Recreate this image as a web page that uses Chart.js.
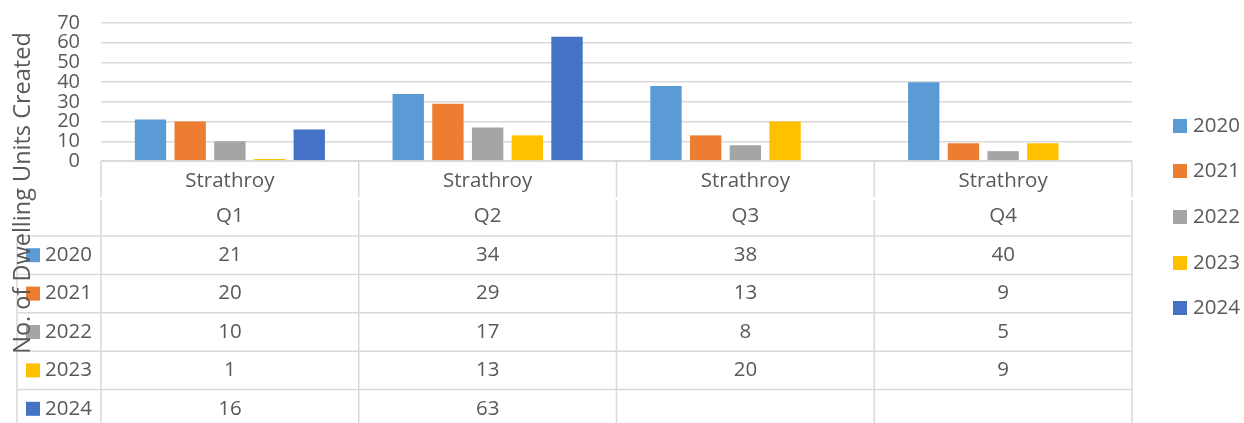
<!DOCTYPE html>
<html>
<head>
<meta charset="utf-8">
<script src="https://cdn.jsdelivr.net/npm/chart.js@4"></script>
<style>
  html, body { margin: 0; padding: 0; background: #fff; }
  #wrap { width: 1244px; height: 423px; }
</style>
</head>
<body>
<div id="wrap"><canvas id="chart" width="1244" height="423"></canvas></div>
<script>
const quarters = ['Q1', 'Q2', 'Q3', 'Q4'];
const place = 'Strathroy';
const years = ['2020', '2021', '2022', '2023', '2024'];
const units2020 = [21, 34, 38, 40];
const units2021 = [20, 29, 13, 9];
const units2022 = [10, 17, 8, 5];
const units2023 = [1, 13, 20, 9];
const units2024 = [16, 63, null, null];
const yTicks = [0, 10, 20, 30, 40, 50, 60, 70];
const colors = ['#5B9BD5', '#ED7D31', '#A5A5A5', '#FFC000', '#4472C4'];
const yTitle = 'No. of Dwelling Units Created';

const FONT = '"Open Sans", Lato, sans-serif';
const TEXT = '#595959';
const LINE = '#D9D9D9';

const series = [units2020, units2021, units2022, units2023, units2024];

// data table under the plot, legend on the right, rotated axis title
const tablePlugin = {
    id: 'dataTable',
    afterDraw(chart) {
        const ctx = chart.ctx;
        const area = chart.chartArea;
        const xs = chart.scales.x;
        const n = quarters.length;
        const colW = (area.right - area.left) / n;
        const rowTop = area.bottom + 75;
        const rowH = 38.4;
        const tableLeft = 17;
        const bottom = 423;

        ctx.save();
        ctx.strokeStyle = LINE;
        ctx.lineWidth = 1.5;

        for (let i = 0; i <= n; i++) {
            const x = area.left + colW * i;
            ctx.beginPath();
            ctx.moveTo(x, area.bottom);
            ctx.lineTo(x, area.bottom + 36);
            ctx.moveTo(x, area.bottom + 39);
            ctx.lineTo(x, bottom);
            ctx.stroke();
        }
        ctx.beginPath();
        ctx.moveTo(tableLeft, rowTop);
        ctx.lineTo(tableLeft, bottom);
        ctx.stroke();

        ctx.beginPath();
        ctx.moveTo(area.left, area.bottom);
        ctx.lineTo(area.right, area.bottom);
        ctx.stroke();
        for (let r = 0; r < years.length; r++) {
            const y = rowTop + rowH * r;
            ctx.beginPath();
            ctx.moveTo(tableLeft, y);
            ctx.lineTo(area.right, y);
            ctx.stroke();
        }

        ctx.fillStyle = TEXT;
        ctx.font = '20.5px ' + FONT;
        ctx.textAlign = 'center';
        ctx.textBaseline = 'middle';
        quarters.forEach((q, i) => {
            const cx = xs.getPixelForValue(i);
            ctx.fillText(place, cx, area.bottom + 20);
            ctx.fillText(q, cx, area.bottom + 55);
        });

        for (let r = 0; r < years.length; r++) {
            const cy = rowTop + rowH * r + rowH / 2;
            ctx.fillStyle = colors[r];
            ctx.fillRect(26, cy - 7, 14, 14);
            ctx.fillStyle = TEXT;
            ctx.textAlign = 'left';
            ctx.fillText(years[r], 45, cy);
            ctx.textAlign = 'center';
            series[r].forEach((v, i) => {
                if (v !== null) ctx.fillText(String(v), xs.getPixelForValue(i), cy);
            });
        }

        // legend
        const legendY = [126, 171, 217, 263, 308];
        years.forEach((yr, r) => {
            ctx.fillStyle = colors[r];
            ctx.fillRect(1173, legendY[r] - 7, 14, 14);
            ctx.fillStyle = TEXT;
            ctx.textAlign = 'left';
            ctx.fillText(yr, 1193, legendY[r]);
        });

        // y axis title
        ctx.translate(23, 193);
        ctx.rotate(-Math.PI / 2);
        ctx.textAlign = 'center';
        ctx.font = '23.5px ' + FONT;
        ctx.fillText(yTitle, 0, 0);
        ctx.restore();
    }
};

new Chart(document.getElementById('chart'), {
    type: 'bar',
    data: {
        labels: quarters,
        datasets: years.map((yr, r) => ({
            label: yr,
            data: series[r],
            backgroundColor: colors[r],
            borderWidth: 0,
            categoryPercentage: 0.77,
            barPercentage: 0.79
        }))
    },
    options: {
        responsive: false,
        animation: false,
        layout: { padding: { top: 23, right: 112, bottom: 262, left: 0 } },
        plugins: { legend: { display: false }, tooltip: { enabled: false } },
        scales: {
            x: {
                display: false
            },
            y: {
                min: 0,
                max: 70,
                afterFit(scale) {
                    scale.width = 101;
                    scale.paddingTop = 0;
                    scale.paddingBottom = 0;
                },
                afterBuildTicks(scale) { scale.ticks = yTicks.map(v => ({ value: v })); },
                border: { display: false },
                grid: { color: LINE, lineWidth: 1.5, drawTicks: false },
                ticks: {
                    color: TEXT,
                    padding: 21,
                    autoSkip: false,
                    font: { family: FONT, size: 20, lineHeight: 1 }
                }
            }
        }
    },
    plugins: [tablePlugin]
});
</script>
</body>
</html>
